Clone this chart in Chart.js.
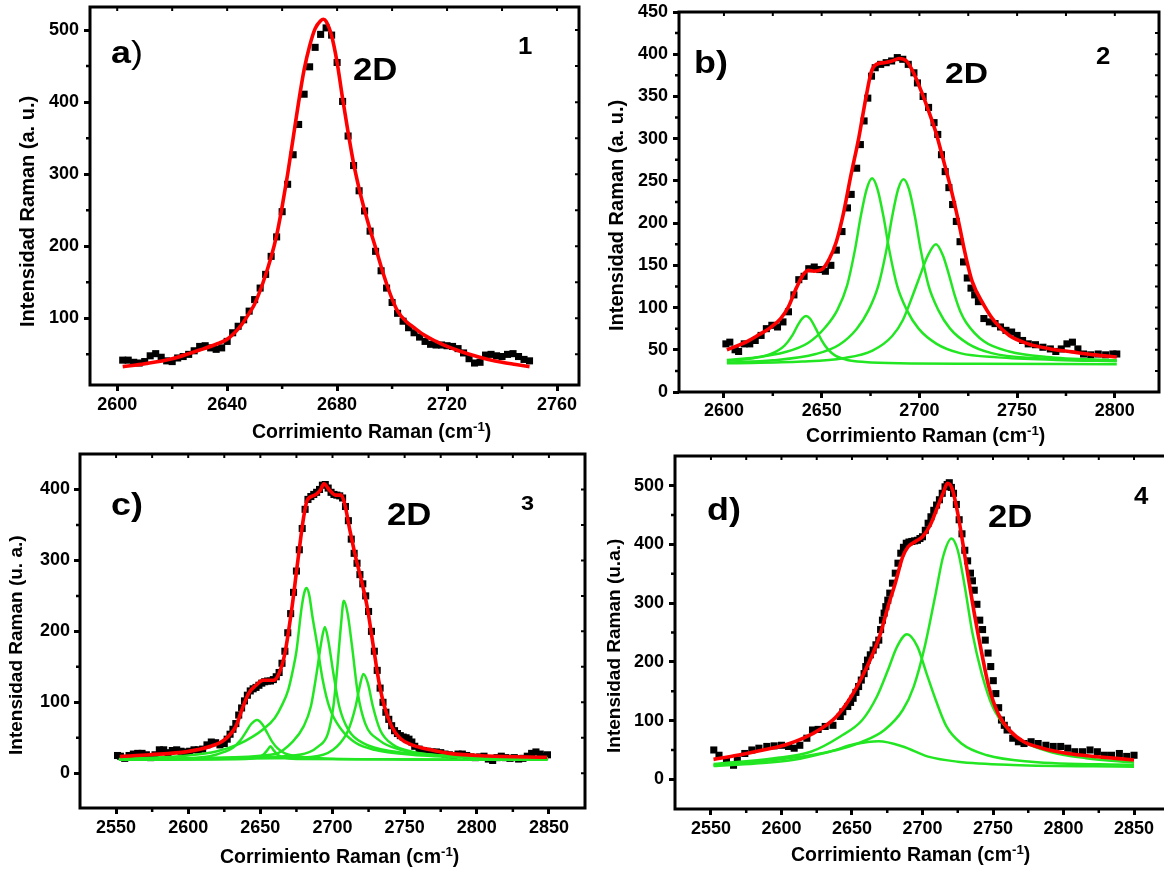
<!DOCTYPE html>
<html><head><meta charset="utf-8">
<script src="https://cdn.jsdelivr.net/npm/chart.js@4.4.1/dist/chart.umd.min.js"></script>
<style>
html,body{margin:0;padding:0;background:#fff;width:1164px;height:871px;overflow:hidden;position:relative;}
canvas{position:absolute;}
.lab{position:absolute;font-family:"Liberation Sans",Arial,sans-serif;font-weight:bold;line-height:1;white-space:nowrap;color:#000;}
.big{transform:scaleX(1.12);transform-origin:0 0;}
.lab sup{font-size:0.68em;line-height:0;position:relative;top:-0.5em;vertical-align:baseline;}
.yt{writing-mode:vertical-rl;transform:rotate(180deg);text-align:center;}
</style></head><body>
<canvas id="ca" width="585" height="444" style="left:0;top:0;width:585px;height:444px"></canvas>
<canvas id="cb" width="574" height="446" style="left:590px;top:0;width:574px;height:446px"></canvas>
<canvas id="cc" width="590" height="431" style="left:0;top:440px;width:590px;height:431px"></canvas>
<canvas id="cd" width="590" height="431" style="left:590px;top:440px;width:590px;height:431px"></canvas>

<div class="lab big" style="left:111px;top:36px;font-size:32px">a<span style="font-weight:normal">)</span></div>
<div class="lab big" style="left:353px;top:54px;font-size:31px">2D</div>
<div class="lab big" style="left:518px;top:35px;font-size:23px">1</div>
<div class="lab" style="left:252px;top:421.5px;font-size:19.5px">Corrimiento Raman (cm<sup>-1</sup>)</div>
<div class="lab yt" style="left:16.7px;top:95px;height:232px;font-size:20px">Intensidad Raman (a. u.)</div>

<div class="lab big" style="left:694px;top:46px;font-size:32px">b)</div>
<div class="lab big" style="left:945px;top:58px;font-size:30px">2D</div>
<div class="lab big" style="left:1096px;top:45px;font-size:23px">2</div>
<div class="lab" style="left:806px;top:425.5px;font-size:19.5px">Corrimiento Raman (cm<sup>-1</sup>)</div>
<div class="lab yt" style="left:606.2px;top:98px;height:234px;font-size:20px">Intensidad Raman (a. u.)</div>

<div class="lab big" style="left:111px;top:488px;font-size:32px">c)</div>
<div class="lab big" style="left:387px;top:499px;font-size:31px">2D</div>
<div class="lab big" style="left:521px;top:492px;font-size:21px">3</div>
<div class="lab" style="left:220px;top:846.5px;font-size:19.5px">Corrimiento Raman (cm<sup>-1</sup>)</div>
<div class="lab yt" style="left:6.2px;top:535px;height:220px;font-size:19px">Intensidad Raman (u. a.)</div>

<div class="lab big" style="left:707px;top:493px;font-size:32px">d)</div>
<div class="lab big" style="left:988px;top:501px;font-size:31px">2D</div>
<div class="lab big" style="left:1134px;top:485px;font-size:23px">4</div>
<div class="lab" style="left:791px;top:844.5px;font-size:19.5px">Corrimiento Raman (cm<sup>-1</sup>)</div>
<div class="lab yt" style="left:603.7px;top:538px;height:215px;font-size:19px">Intensidad Raman (u.a.)</div>

<script>
const FONT = '"Liberation Sans", Arial, sans-serif';

// ---------- Panel a ----------
const aXTicks = [2600, 2640, 2680, 2720, 2760];
const aXMinor = [2620, 2660, 2700, 2740];
const aYTicks = [100, 200, 300, 400, 500];
const aYMinor = [50, 150, 250, 350, 450];
const aSquares = [[2602,42],[2604,42],[2606,39],[2608,38],[2610,40],[2612,48],[2614,51],[2616,46],[2618,41],[2620,40],[2622,45],[2624,47],[2626,50],[2628,55],[2630,61],[2632,62],[2634,59],[2636,57],[2638,59],[2640,68],[2642,80],[2644,89],[2646,98],[2648,110],[2650,126],[2652,142],[2654,161],[2656,186],[2658,213],[2660,248],[2662,286],[2664,327],[2666,369],[2668,411],[2670,449],[2672,476],[2674,494],[2676,503],[2678,493],[2680,455],[2682,401],[2684,353],[2686,312],[2688,277],[2690,249],[2692,221],[2694,193],[2696,166],[2698,142],[2700,122],[2702,107],[2704,96],[2706,87],[2708,80],[2710,74],[2712,68],[2714,64],[2716,63],[2718,63],[2720,62],[2722,61],[2724,58],[2726,52],[2728,44],[2730,38],[2732,39],[2734,49],[2736,50],[2738,48],[2740,47],[2742,50],[2744,51],[2746,47],[2748,43],[2750,41]];
const aFit = [[2602,33],[2610,37],[2620,44],[2630,56],[2636,64],[2640,71],[2645,90],[2648,107],[2650,120],[2653,149],[2656,185],[2658,215],[2660,255],[2662,300],[2664,350],[2666,400],[2668,445],[2670,478],[2672,502],[2674,513],[2675,515],[2676,512],[2678,492],[2680,455],[2682,405],[2684,358],[2686,315],[2688,280],[2690,250],[2692,223],[2694,198],[2696,172],[2698,148],[2700,127],[2702,110],[2705,96],[2708,87],[2712,76],[2716,68],[2720,61],[2725,54],[2730,48],[2735,43],[2740,39],[2745,36],[2750,33]];

// ---------- Panel b ----------
const bXTicks = [2600, 2650, 2700, 2750, 2800];
const bXMinor = [2625, 2675, 2725, 2775];
const bYTicks = [0, 50, 100, 150, 200, 250, 300, 350, 400, 450];
const bYMinor = [25, 75, 125, 175, 225, 275, 325, 375, 425];
const bSquares = [[2601,57],[2603,59],[2605.7,50],[2607.5,48],[2610.4,57],[2613.2,57],[2616,61],[2619,67],[2621.7,75],[2624.5,79],[2627.4,77],[2630.2,83],[2633,95],[2635.8,115],[2638.3,133],[2641,137],[2643.4,146],[2646.2,148],[2649,145],[2651.9,143],[2654.7,150],[2657.5,168],[2660.4,190],[2663.2,218],[2665.1,234],[2667.9,265],[2669.8,293],[2671.7,321],[2673.6,348],[2675.5,374],[2677.4,384],[2680.2,388],[2683,390],[2685.8,392],[2688.7,396],[2691.5,394],[2694.3,388],[2697.2,378],[2699,366],[2701.9,350],[2704.7,337],[2707.5,319],[2709.4,305],[2711.3,281],[2713.2,261],[2715.1,242],[2717,222],[2718.9,202],[2720.8,178],[2722.6,154],[2724.5,135],[2726.4,123],[2728.3,115],[2730.2,107],[2733,87],[2735.8,83],[2738.7,81],[2741.5,77],[2744.3,73],[2747.2,71],[2750,67],[2752.8,61],[2755.7,57],[2759.4,56],[2763.2,53],[2767,51],[2769.8,48],[2772.6,51],[2775.5,57],[2778.3,59],[2781.1,51],[2784,45],[2787.7,44],[2791.5,45],[2795.3,44],[2799,45],[2801,45]];
const bFit = [[2601.5,50],[2606,54],[2612,60],[2618,68],[2623.6,76],[2629,87],[2633,101],[2637,123],[2640.6,139],[2643.4,144],[2646,143],[2650,145],[2654,158],[2657.5,178],[2661,210],[2665,257],[2669,301],[2672.6,348],[2675.5,380],[2678,388],[2682,390],[2686,392],[2689.6,395],[2693.4,392],[2697,378],[2701,356],[2704.7,333],[2708.5,307],[2712,277],[2716,242],[2720,202],[2723.6,162],[2727,131],[2733,103],[2738.7,83],[2746,67],[2755.7,57],[2767,51],[2778,47.5],[2789.6,44],[2801,41.5]];
const bPeak1 = [[2601.5,37],[2615,40],[2624,45],[2631,55],[2635,67],[2638,80],[2640,87],[2642,90],[2644,87],[2647,75],[2650,61],[2653,51],[2657,43],[2663,38],[2672,35.5],[2690,34],[2730,33.5],[2801,33]];
const bPeak2 = [[2601.5,38],[2616,41],[2631,47],[2643,58],[2652,77],[2658,97],[2663,126],[2667,168],[2670,208],[2673,240],[2675.8,253],[2678.6,240],[2681.6,208],[2684.6,168],[2688.6,126],[2693.6,97],[2699.6,75],[2708.8,57],[2720.8,46],[2740,41],[2770,38],[2801,36.5]];
const bPeak3 = [[2601.5,35],[2625,37.5],[2647,45],[2659,56],[2668,75],[2674,97],[2679,126],[2683.1,168],[2686.1,208],[2689.1,240],[2691.9,252],[2694.7,240],[2697.7,208],[2700.7,168],[2704.7,126],[2709.7,97],[2715.7,75],[2725,57],[2737,46],[2760,40],[2801,37]];
const bPeak4 = [[2601.5,34],[2640,36],[2661,40],[2676,49],[2686,66],[2691.5,85],[2697,117],[2701,142],[2704,160],[2708.5,175],[2712,162],[2715,140],[2718,115],[2721,95],[2724,82],[2733,60],[2746,48],[2765,41.5],[2801,37.5]];

// ---------- Panel c ----------
const cXTicks = [2550, 2600, 2650, 2700, 2750, 2800, 2850];
const cXMinor = [2575, 2625, 2675, 2725, 2775, 2825];
const cYTicks = [0, 100, 200, 300, 400];
const cYMinor = [50, 150, 250, 350];
const cSquares = [[2551,25],[2553,24],[2556,21],[2559,25],[2562,27],[2565,28],[2568,28],[2571,26],[2574,22],[2577,26],[2580,33],[2583,33],[2586,29],[2589,32],[2592,33],[2595,31],[2598,30],[2601,31],[2604,33],[2607,33],[2610,34],[2613,40],[2616,44],[2619,43],[2622,40],[2625,42],[2627,48],[2629,55],[2631,62],[2633,70],[2635,82],[2637,92],[2639,102],[2641,110],[2643,116],[2645,119],[2647,121],[2649,124],[2651,127],[2653,129],[2655,130],[2657,130],[2659,132],[2661,136],[2663,142],[2665,155],[2667,172],[2669,198],[2671,225],[2673,255],[2675,285],[2677,315],[2679,345],[2681,372],[2683,386],[2685,390],[2687,393],[2689,396],[2691,400],[2693,406],[2695,407],[2697,402],[2699,396],[2701,393],[2703,392],[2705,391],[2707,388],[2709,376],[2711,356],[2713,330],[2715,310],[2717,296],[2719,280],[2721,267],[2723,250],[2725,228],[2727,200],[2729,172],[2731,145],[2733,120],[2735,100],[2737,86],[2739,76],[2741,67],[2743,60],[2745,56],[2747,53],[2749,51],[2751,50],[2753,48],[2755,44],[2757,38],[2760,34],[2763,32],[2766,31],[2769,30],[2772,30],[2775,29],[2778,27],[2781,26],[2784,25],[2787,27],[2790,27],[2793,25],[2796,23],[2799,22],[2802,23],[2805,24],[2808,20],[2811,18],[2814,22],[2817,24],[2820,22],[2823,21],[2826,22],[2829,20],[2832,21],[2835,24],[2838,28],[2841,30],[2844,27],[2847,24],[2849,26]];
const cFit = [[2552.6,23.5],[2573.4,26],[2599.4,30.5],[2615,37.6],[2625,47],[2633,66],[2638,94],[2642,113],[2647,124],[2652,131],[2659,131],[2663,141],[2667,169],[2672,235],[2676,300],[2680,361],[2682.5,385],[2687.7,392],[2691.6,399],[2694,408],[2698,399],[2702,392],[2706,392],[2708.4,380],[2712,343],[2716,305],[2720,272],[2724,235],[2728,183],[2732,131],[2736,94],[2741,66],[2747,49],[2755,40],[2768,33],[2781,28],[2807,24.4],[2848.7,22.5]];
const cPeak1 = [[2552,19],[2600,21],[2615,24],[2625,30],[2631,36],[2636,46],[2640,58],[2643.5,69],[2647.7,75],[2651.7,68],[2655,56],[2658,45],[2662,35],[2667,28],[2677,23.5],[2700,20.5],[2750,19.5],[2849,19]];
const cPeak2 = [[2552,19],[2640,20],[2648,22],[2652,26],[2655,33],[2657,38],[2659,33],[2662,26],[2666,22],[2675,20],[2849,19]];
const cPeak3 = [[2552,20],[2600,25],[2620,31],[2635,41],[2645,52],[2652,62],[2660,78],[2665,96],[2669.4,118],[2672.5,145],[2675,172],[2678.5,232],[2680.5,255],[2682,261],[2684,250],[2686,222],[2689,186],[2693,134],[2698,92],[2706,62],[2716,43],[2729,33],[2755,26],[2800,22],[2849,20.5]];
const cPeak4 = [[2552,19],[2620,22],[2660,27],[2672.6,45],[2680,66],[2685,94],[2689,141],[2692.5,188],[2694.7,206],[2697,188],[2700.6,141],[2704.7,94],[2711,61],[2721.6,42],[2742.5,30.5],[2781,24.4],[2849,21]];
const cPeak5 = [[2552,19.5],[2640,22],[2677,26],[2690,37.6],[2696.8,56],[2700.6,94],[2703,141],[2705.8,207],[2707.8,243],[2710.5,225],[2713.6,178],[2717.5,113],[2722.7,70],[2732,47],[2747,33],[2781,24.4],[2849,21]];
const cPeak6 = [[2552,19],[2660,21],[2690,24.4],[2703,37.6],[2711,61],[2716,94],[2718.8,122],[2721.4,140],[2724.5,127],[2728,94],[2733,61],[2742,40],[2755,30.5],[2781,24.4],[2849,21]];

// ---------- Panel d ----------
const dXTicks = [2550, 2600, 2650, 2700, 2750, 2800, 2850];
const dXMinor = [2575, 2625, 2675, 2725, 2775, 2825];
const dYTicks = [0, 100, 200, 300, 400, 500];
const dYMinor = [50, 150, 250, 350, 450];
const dSquares = [[2552,50],[2555.7,41],[2561,33],[2566,24],[2568.7,33],[2574,44],[2579,50],[2584,53],[2589.6,56],[2594.8,57],[2600,58],[2605,56],[2609,53],[2613,58],[2618,70],[2622,84],[2626,85],[2631,90],[2636.5,92],[2641.7,107],[2643.5,115],[2647,124],[2649,131],[2650.8,138],[2652.8,148],[2654.7,158],[2656.6,169],[2658.6,180],[2659.8,192],[2661,203],[2663,212],[2665,220],[2667,229],[2669,237],[2670.3,255],[2671.6,271],[2672.8,283],[2674,294],[2675.4,305],[2676.8,317],[2678.7,334],[2680.7,351],[2682.6,368],[2684.6,385],[2686.5,395],[2688.5,402],[2690.4,404],[2692.4,405],[2694.4,406],[2696.4,407],[2698.2,410],[2700,413],[2702,424],[2704,436],[2706,447],[2708,458],[2710,467],[2712,476],[2714,487],[2716,498],[2717.5,502],[2719,505],[2720.5,497],[2722,487],[2724,468],[2726,442],[2728,418],[2730,390],[2732,372],[2734,351],[2735.4,338],[2736.7,322],[2738.6,298],[2740.6,271],[2742.6,255],[2744.5,237],[2746.5,215],[2748.4,192],[2750.2,168],[2752,146],[2754,122],[2756,101],[2758,92],[2760,84],[2764,70],[2768,64],[2772,61],[2777,64],[2782,61],[2787.5,58],[2792.7,56],[2798,56],[2803,53],[2808,47],[2813.5,47],[2818.8,50],[2824,47],[2829,41],[2834,41],[2839.6,44],[2844.8,39],[2850,41]];
const dFit = [[2551.8,34],[2568.7,41],[2587,50],[2602.6,58.5],[2615.6,70],[2628.6,87],[2639,107],[2649.5,141],[2657.3,175],[2665,215],[2670.3,249],[2675.5,294],[2680.7,334],[2686,379],[2689.8,396],[2695,405],[2700,413],[2705.5,433],[2710.7,464],[2714.6,487],[2717.7,504],[2721,495],[2725,453],[2729,396],[2732.8,339],[2736.7,283],[2742,215],[2747,158],[2753.6,112],[2761.5,84],[2771.9,64],[2785,53],[2803,44],[2824,38.6],[2850,33]];
const dPeak1 = [[2551.8,22.7],[2581.8,27],[2607.8,33],[2633.9,47],[2652,60],[2669,65],[2686,56],[2704,38.6],[2725,30],[2764,24.4],[2850,21.6]];
const dPeak2 = [[2551.8,26],[2594.8,36],[2620.8,47],[2641.7,73],[2657.3,101],[2667.7,141],[2675.5,186],[2682,226],[2689,247],[2696.4,226],[2702.9,180],[2709.4,135],[2717,90],[2727.6,61],[2745.8,41],[2777,30],[2850,24.4]];
const dPeak3 = [[2551.8,24],[2594.8,33],[2634,47],[2657.3,64],[2673,84],[2686,118],[2693.8,158],[2701.6,226],[2709.4,317],[2714.6,379],[2720.6,410],[2725,390],[2730,328],[2735.4,249],[2742,180],[2749.7,124],[2758.9,90],[2771.9,64],[2790,47],[2816,36],[2850,28.4]];

function pts(arr) { return arr.map(p => ({x: p[0], y: p[1]})); }

const framePlugin = {
  id: 'frame',
  afterDraw(chart, args, o) {
    const {ctx, chartArea: ca} = chart;
    const xs = chart.scales.x, ys = chart.scales.y;
    ctx.save();
    ctx.strokeStyle = '#000';
    ctx.lineCap = 'butt';
    ctx.lineWidth = 3;
    ctx.strokeRect(ca.left, ca.top, ca.right - ca.left, ca.bottom - ca.top);
    ctx.lineWidth = 2.5;
    ctx.beginPath();
    o.xMinor.forEach(v => { const p = xs.getPixelForValue(v); ctx.moveTo(p, ca.bottom); ctx.lineTo(p, ca.bottom + 4); });
    o.yMinor.forEach(v => { const p = ys.getPixelForValue(v); ctx.moveTo(ca.left, p); ctx.lineTo(ca.left - 4, p); });
    ctx.stroke();
    ctx.lineWidth = 2;
    ctx.beginPath();
    o.xMajor.concat(o.xMinor).forEach(v => { const p = xs.getPixelForValue(v); ctx.moveTo(p, ca.top); ctx.lineTo(p, ca.top + 4); });
    o.yMajor.concat(o.yMinor).forEach(v => { const p = ys.getPixelForValue(v); if (p > ca.top + 2 && p < ca.bottom - 2) { ctx.moveTo(ca.right, p); ctx.lineTo(ca.right - 4, p); } });
    ctx.stroke();
    ctx.restore();
  }
};

function panel(id, o) {
  const sq = {data: pts(o.squares), showLine: false, pointStyle: 'rect', pointRadius: 5, pointHoverRadius: 5,
              pointBackgroundColor: '#000', pointBorderColor: '#000', pointBorderWidth: 0};
  const fit = {data: pts(o.fit), showLine: true, borderColor: '#ff0000', borderWidth: 3.6, pointRadius: 0,
               cubicInterpolationMode: 'monotone', fill: false};
  const greens = o.comps.map(c => ({data: pts(c), showLine: true, borderColor: '#22e622', borderWidth: 2.5,
               pointRadius: 0, cubicInterpolationMode: 'monotone', fill: false}));
  const tickFont = {family: FONT, size: 18, weight: 'bold'};
  new Chart(document.getElementById(id), {
    type: 'scatter',
    data: {datasets: [fit, ...greens, sq]},
    options: {
      responsive: false, animation: false, events: [],
      layout: {padding: {top: o.padTop, right: o.padRight, bottom: 0, left: 0}},
      plugins: {legend: {display: false}, tooltip: {enabled: false},
                frame: {xMinor: o.xMinor, yMinor: o.yMinor, xMajor: o.xTicks, yMajor: o.yTicks}},
      scales: {
        x: {
          type: 'linear', position: 'bottom', min: o.xMin, max: o.xMax,
          afterBuildTicks: s => { s.ticks = o.xTicks.map(v => ({value: v})); },
          afterFit: s => { s.height = o.xH; s.paddingLeft = 0; s.paddingRight = 0; s.paddingTop = 0; s.paddingBottom = 0; },
          ticks: {font: tickFont, color: '#000', padding: o.xTickPad, autoSkip: false, maxRotation: 0, minRotation: 0,
                  callback: v => String(v)},
          grid: {display: true, drawOnChartArea: false, drawTicks: true, tickLength: 6, tickWidth: 3, tickColor: '#000'},
          border: {display: false},
          title: {display: false}
        },
        y: {
          type: 'linear', position: 'left', min: o.yMin, max: o.yMax,
          afterBuildTicks: s => { s.ticks = o.yTicks.map(v => ({value: v})); },
          afterFit: s => { s.width = o.yW; s.paddingLeft = 0; s.paddingRight = 0; s.paddingTop = 0; s.paddingBottom = 0; },
          ticks: {font: tickFont, color: '#000', padding: o.yTickPad, autoSkip: false, callback: v => String(v)},
          grid: {display: true, drawOnChartArea: false, drawTicks: true, tickLength: 6, tickWidth: 3, tickColor: '#000'},
          border: {display: false},
          title: {display: false}
        }
      }
    },
    plugins: [framePlugin]
  });
}

panel('ca', {squares: aSquares, fit: aFit, comps: [], xTicks: aXTicks, xMinor: aXMinor, yTicks: aYTicks, yMinor: aYMinor,
  xMin: 2590.1, xMax: 2768, yMin: 7.5, yMax: 532, padTop: 7, padRight: 6, xH: 59, yW: 90, xTickPad: 3.7, yTickPad: 5});
panel('cb', {squares: bSquares, fit: bFit, comps: [bPeak1, bPeak2, bPeak3, bPeak4], xTicks: bXTicks, xMinor: bXMinor, yTicks: bYTicks, yMinor: bYMinor,
  xMin: 2577, xMax: 2822.6, yMin: 0, yMax: 450, padTop: 12, padRight: 4, xH: 54, yW: 89, xTickPad: 2.7, yTickPad: 5});
panel('cc', {squares: cSquares, fit: cFit, comps: [cPeak1, cPeak2, cPeak3, cPeak4, cPeak5, cPeak6], xTicks: cXTicks, xMinor: cXMinor, yTicks: cYTicks, yMinor: cYMinor,
  xMin: 2525, xMax: 2875, yMin: -49, yMax: 450, padTop: 14, padRight: 3, xH: 63, yW: 80, xTickPad: 3.7, yTickPad: 4});
panel('cd', {squares: dSquares, fit: dFit, comps: [dPeak1, dPeak2, dPeak3], xTicks: dXTicks, xMinor: dXMinor, yTicks: dYTicks, yMinor: dYMinor,
  xMin: 2524.5, xMax: 2874.8, yMin: -50.5, yMax: 550.5, padTop: 16, padRight: 11, xH: 62, yW: 85, xTickPad: 3.2, yTickPad: 5});
</script>
</body></html>
